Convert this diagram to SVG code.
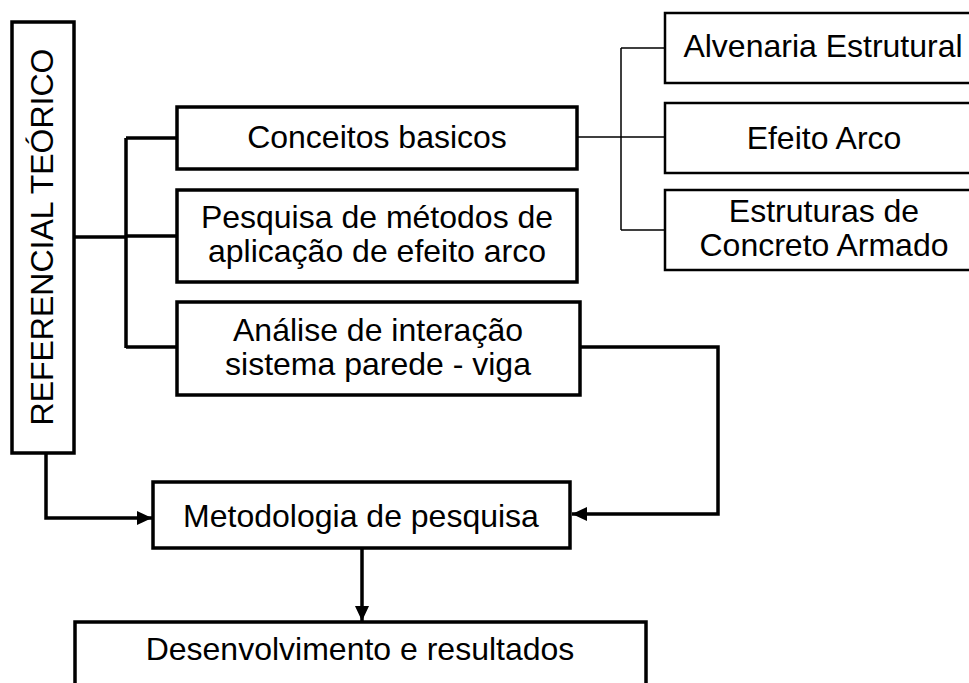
<svg xmlns="http://www.w3.org/2000/svg" width="969" height="683" viewBox="0 0 969 683">
<style>
.box{fill:#fff;stroke:#000;stroke-width:3.5}
.box2{fill:#fff;stroke:#000;stroke-width:2.5}
.t{font-family:"Liberation Sans",Arial,sans-serif;font-size:32px;fill:#000;text-anchor:middle}
.c{fill:none;stroke:#000;stroke-width:3.5}
.c2{fill:none;stroke:#000;stroke-width:1.5}
</style>
<defs>
<marker id="ah" markerWidth="16" markerHeight="14" refX="15" refY="7" orient="auto" markerUnits="userSpaceOnUse">
<path d="M0,0 L15,7 L0,14 Z" fill="#000"/>
</marker>
</defs>
<rect width="969" height="683" fill="#fff"/>
<g id="connectors">
<path class="c" d="M74,237 H126 M126,138 V348 M126,138 H177 M126,236 H177 M126,347 H177"/>
<path class="c2" d="M577,137 H621 M621,48 V230 M621,48 H665 M621,137 H665 M621,230 H665"/>
<path class="c" d="M46,453 V518 H152" marker-end="url(#ah)"/>
<path class="c" d="M580,347 H718 V514 H572" marker-end="url(#ah)"/>
<path class="c" d="M362,548 V621" marker-end="url(#ah)"/>
</g>
<g id="ref">
<rect class="box" x="12" y="22" width="62" height="431"/>
<text class="t" x="53" y="237" transform="rotate(-90 53 237)">REFERENCIAL TEÓRICO</text>
</g>
<g id="conceitos">
<rect class="box" x="177" y="107" width="400" height="62"/>
<text class="t" x="377" y="148">Conceitos basicos</text>
</g>
<g id="pesquisa">
<rect class="box" x="177" y="190" width="400" height="92"/>
<text class="t" x="377" y="228">Pesquisa de métodos de</text>
<text class="t" x="377" y="262">aplicação de efeito arco</text>
</g>
<g id="analise">
<rect class="box" x="177" y="302" width="403" height="93"/>
<text class="t" x="378" y="341">Análise de interação</text>
<text class="t" x="378" y="375">sistema parede - viga</text>
</g>
<g id="alvenaria">
<rect class="box2" x="665" y="13" width="317" height="70"/>
<text class="t" x="823" y="57">Alvenaria Estrutural</text>
</g>
<g id="efeito">
<rect class="box2" x="665" y="103" width="317" height="70"/>
<text class="t" x="824" y="149">Efeito Arco</text>
</g>
<g id="estruturas">
<rect class="box2" x="665" y="190" width="317" height="80"/>
<text class="t" x="824" y="222">Estruturas de</text>
<text class="t" x="824" y="256">Concreto Armado</text>
</g>
<g id="metodologia">
<rect class="box" x="153" y="482" width="417" height="66"/>
<text class="t" x="361" y="527">Metodologia de pesquisa</text>
</g>
<g id="desenvolvimento">
<rect class="box" x="75" y="622" width="571" height="100"/>
<text class="t" x="360" y="660">Desenvolvimento e resultados</text>
</g>
</svg>
